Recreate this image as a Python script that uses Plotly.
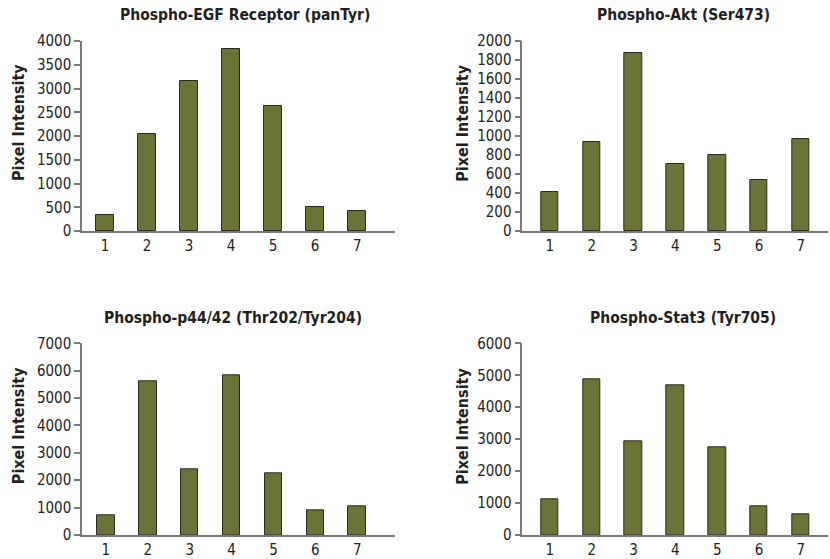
import plotly.graph_objects as go

lanes = ["1", "2", "3", "4", "5", "6", "7"]
titles = ["Phospho-EGF Receptor (panTyr)", "Phospho-Akt (Ser473)",
          "Phospho-p44/42 (Thr202/Tyr204)", "Phospho-Stat3 (Tyr705)"]
egfr = [340, 2035, 3150, 3825, 2625, 505, 420]
akt = [410, 935, 1877, 702, 797, 535, 968]
p4442 = [730, 5610, 2410, 5845, 2265, 900, 1035]
stat3 = [1127, 4862, 2932, 4685, 2744, 898, 647]
ymax = [4000, 2000, 7000, 6000]
ydtick = [500, 200, 1000, 1000]
ytitle = "Pixel Intensity"

series = [egfr, akt, p4442, stat3]
W, H = 830, 559
# plot areas in screen pixels: (left, right, top, bottom)
boxes = [(82, 395, 41, 231), (522.3, 828, 41, 231),
         (82, 395, 343.3, 535), (522.3, 828, 343.3, 535)]
xranges = [[0.45, 7.9], [0.34, 7.65], [0.43, 7.9], [0.34, 7.65]]

FONT = "DejaVu Sans Condensed, Liberation Sans Narrow, Arial, sans-serif"
TXT = "#231f20"
AX = "#7a7a7a"

fig = go.Figure()
for i, (vals, box) in enumerate(zip(series, boxes)):
    n = "" if i == 0 else str(i + 1)
    l, r, t, b = box
    fig.add_trace(go.Bar(
        x=[int(c) for c in lanes], y=vals, width=0.42,
        marker=dict(color="#6b7436", line=dict(color="#2b2b1c", width=1)),
        xaxis="x" + n, yaxis="y" + n, showlegend=False, hoverinfo="x+y"))
    fig.layout["xaxis" + n] = dict(
        domain=[l / W, r / W], anchor="y" + n, range=xranges[i],
        tickmode="array", tickvals=[int(c) for c in lanes], ticktext=lanes,
        showline=True, linecolor=AX, linewidth=1.5, ticks="", showgrid=False,
        zeroline=False, automargin=False,
        tickfont=dict(family=FONT, size=15, color=TXT), fixedrange=True)
    fig.layout["yaxis" + n] = dict(
        domain=[(H - b) / H, (H - t) / H], anchor="x" + n, range=[0, ymax[i]],
        dtick=ydtick[i], tick0=0, showline=True, linecolor=AX, linewidth=1.5,
        ticks="outside", ticklen=6, tickcolor=AX, tickwidth=1.5,
        showgrid=False, zeroline=False, automargin=False,
        tickfont=dict(family=FONT, size=15, color=TXT), fixedrange=True)
    tcx = [245, 683, 233, 683][i]
    tcy = [15, 15, 318, 318][i]
    fig.add_annotation(x=tcx / W, y=1 - tcy / H, xref="paper", yref="paper",
                       text="<b>" + titles[i] + "</b>", showarrow=False,
                       xanchor="center", yanchor="middle",
                       font=dict(family=FONT, size=15.5, color=TXT))
    ycx = [18, 461.7, 18, 461.7][i]
    ycy = (t + b) / 2 - 13
    fig.add_annotation(x=ycx / W, y=1 - ycy / H, xref="paper", yref="paper",
                       text="<b>" + ytitle + "</b>", showarrow=False,
                       textangle=-90, xanchor="center", yanchor="middle",
                       font=dict(family=FONT, size=16, color=TXT))

fig.update_layout(width=W, height=H, margin=dict(l=0, r=0, t=0, b=0),
                  plot_bgcolor="white", paper_bgcolor="white", bargap=0)
fig.write_html("out.html", config={"displayModeBar": False},
               post_script="document.body.style.margin='0';"
                           "document.body.style.overflow='hidden';")
